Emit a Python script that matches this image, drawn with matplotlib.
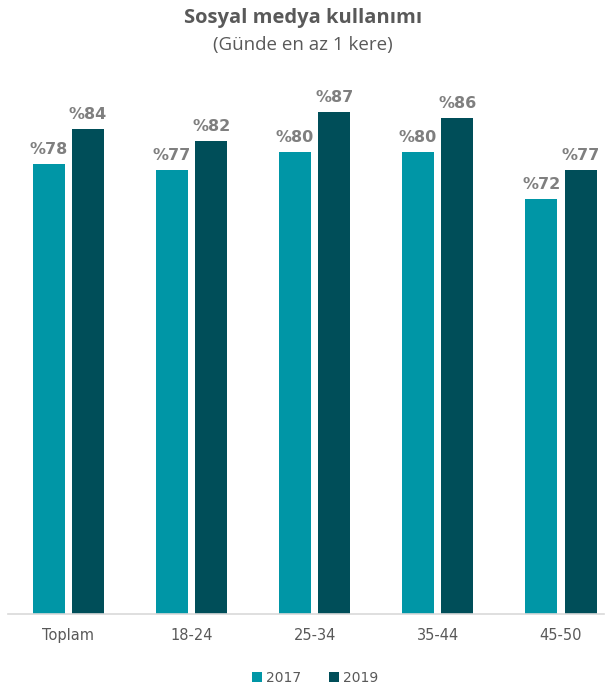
import matplotlib.pyplot as plt
import numpy as np

categories = ['Toplam', '18-24', '25-34', '35-44', '45-50']
values_2017 = [78, 77, 80, 80, 72]
values_2019 = [84, 82, 87, 86, 77]
series_names = ['2017', '2019']

c2017 = '#0096A6'
c2019 = '#004E59'

fig = plt.figure(figsize=(6.06, 6.91), dpi=100)
ax = fig.add_axes([8 / 606, 1 - 614 / 691, 596 / 606, (614 - 60) / 691])

x = np.arange(len(categories))
w = 0.26
off = 0.16
b1 = ax.bar(x - off, values_2017, w, color=c2017, label=series_names[0])
b2 = ax.bar(x + off, values_2019, w, color=c2019, label=series_names[1])

# value labels above bars
for bars, vals in ((b1, values_2017), (b2, values_2019)):
    for rect, v in zip(bars, vals):
        ax.text(rect.get_x() + rect.get_width() / 2, v + 1.2, '%' + str(v),
                ha='center', va='bottom', fontsize=11.5, fontweight='bold',
                color='#7F7F7F', family='DejaVu Sans')

ax.set_xlim(-0.49, 4.35)
ax.set_ylim(0, 96)
ax.set_yticks([])
ax.set_xticks(x)
ax.set_xticklabels(categories, fontsize=10.5, color='#595959', family='DejaVu Sans')
ax.tick_params(axis='x', length=0, pad=10)
for s in ['top', 'right', 'left']:
    ax.spines[s].set_visible(False)
ax.spines['bottom'].set_color('#D9D9D9')
ax.spines['bottom'].set_linewidth(1.2)

fig.text(0.5, 1 - 18 / 691, 'Sosyal medya kullanımı', ha='center', va='center',
         fontsize=14.5, fontweight='bold', color='#595959', family='Open Sans')
fig.text(0.5, 1 - 45 / 691, '(Günde en az 1 kere)', ha='center', va='center',
         fontsize=13.5, color='#595959', family='Open Sans')

fig.legend(handles=[b1, b2], labels=series_names, loc='center',
           bbox_to_anchor=(0.52, 1 - 678 / 691), ncol=2, frameon=False,
           fontsize=10, handlelength=0.7, handleheight=0.7, handletextpad=0.3,
           columnspacing=2.0, labelcolor='#595959')

fig.savefig('out.png', dpi=100)
